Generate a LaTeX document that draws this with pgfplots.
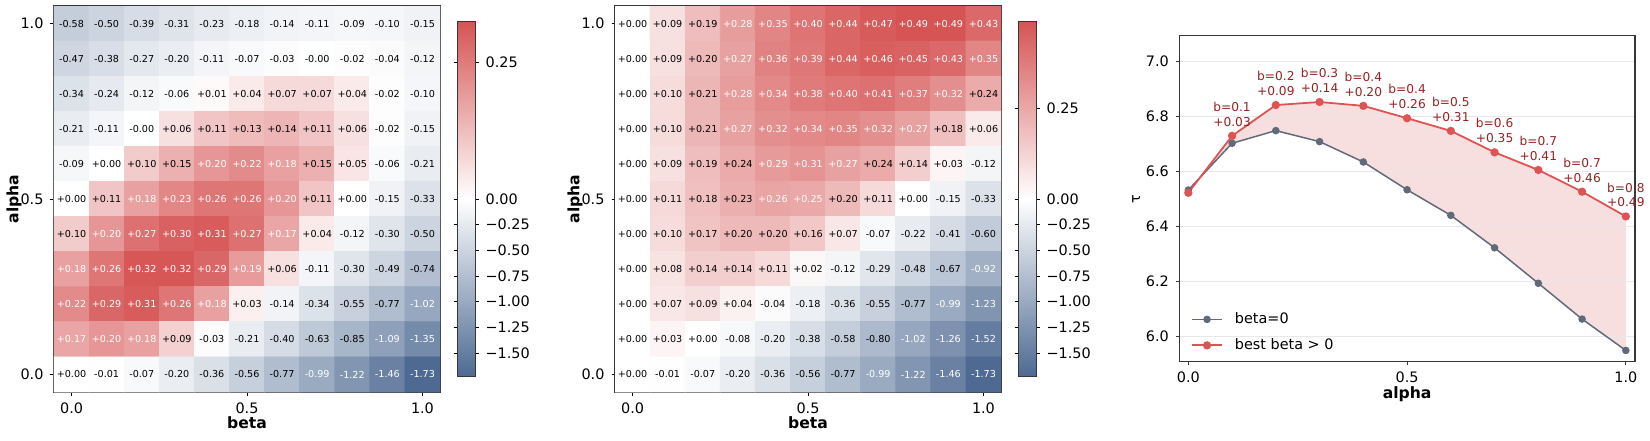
\documentclass[border=0pt]{standalone}
\usepackage{pgfplots}
\pgfplotsset{compat=1.18}
\usepackage{pgfplotstable}
\usepackage{fontspec}
\setmainfont{DejaVu Sans}

\definecolor{basegray}{RGB}{98,106,122}
\definecolor{bestred}{RGB}{222,84,84}
\definecolor{annred}{RGB}{150,35,35}
\definecolor{gainfill}{RGB}{248,223,223}
\definecolor{gridgray}{RGB}{232,232,236}
\definecolor{framegray}{RGB}{55,55,55}

\newcommand\tickfont{\fontsize{7.2pt}{8.6pt}\selectfont}
\newcommand\labelfont{\fontsize{7.8pt}{9.4pt}\selectfont\bfseries}
\newcommand\cellfont{\fontsize{4.8pt}{5.8pt}\selectfont}
\newcommand\annfont{\fontsize{6.1pt}{7.4pt}\selectfont}

% signed two-decimal cell label; white text on the darker half of the scale
% #1 value, #2 positive value above which the cell is dark
\def\dropminus-#1\relax{#1}
\newcommand\cellval[2]{%
  \edef\cellraw{#1}%
  \ifdim\cellraw pt<0pt
    \ifdim\cellraw pt<-0.865pt\color{white}\else\color{black}\fi
    \edef\cellabs{\expandafter\dropminus\cellraw\relax}%
    -\pgfmathprintnumber[fixed,fixed zerofill,precision=2,assume math mode=true]{\cellabs}%
  \else
    \ifdim\cellraw pt>#2pt\color{white}\else\color{black}\fi
    +\pgfmathprintnumber[fixed,fixed zerofill,precision=2,assume math mode=true]{\cellraw}%
  \fi}

% tau gain relative to (alpha=0.5, beta=0); pairs (beta, gain),
% one line per alpha = 1.0 ... 0.0
\pgfplotstableread[row sep=\\]{
b v\\
0.0 -0.58\\ 0.1 -0.50\\ 0.2 -0.39\\ 0.3 -0.31\\ 0.4 -0.23\\ 0.5 -0.18\\ 0.6 -0.14\\ 0.7 -0.11\\ 0.8 -0.09\\ 0.9 -0.10\\ 1.0 -0.15\\
0.0 -0.47\\ 0.1 -0.38\\ 0.2 -0.27\\ 0.3 -0.20\\ 0.4 -0.11\\ 0.5 -0.07\\ 0.6 -0.03\\ 0.7 -0.004\\ 0.8 -0.02\\ 0.9 -0.04\\ 1.0 -0.12\\
0.0 -0.34\\ 0.1 -0.24\\ 0.2 -0.12\\ 0.3 -0.06\\ 0.4 0.01\\ 0.5 0.04\\ 0.6 0.07\\ 0.7 0.07\\ 0.8 0.04\\ 0.9 -0.02\\ 1.0 -0.10\\
0.0 -0.21\\ 0.1 -0.11\\ 0.2 -0.004\\ 0.3 0.06\\ 0.4 0.11\\ 0.5 0.13\\ 0.6 0.14\\ 0.7 0.11\\ 0.8 0.06\\ 0.9 -0.02\\ 1.0 -0.15\\
0.0 -0.09\\ 0.1 0.00\\ 0.2 0.10\\ 0.3 0.15\\ 0.4 0.20\\ 0.5 0.22\\ 0.6 0.18\\ 0.7 0.15\\ 0.8 0.05\\ 0.9 -0.06\\ 1.0 -0.21\\
0.0 0.00\\ 0.1 0.11\\ 0.2 0.18\\ 0.3 0.23\\ 0.4 0.26\\ 0.5 0.26\\ 0.6 0.20\\ 0.7 0.11\\ 0.8 0.00\\ 0.9 -0.15\\ 1.0 -0.33\\
0.0 0.10\\ 0.1 0.20\\ 0.2 0.27\\ 0.3 0.30\\ 0.4 0.31\\ 0.5 0.27\\ 0.6 0.17\\ 0.7 0.04\\ 0.8 -0.12\\ 0.9 -0.30\\ 1.0 -0.50\\
0.0 0.18\\ 0.1 0.26\\ 0.2 0.32\\ 0.3 0.32\\ 0.4 0.29\\ 0.5 0.19\\ 0.6 0.06\\ 0.7 -0.11\\ 0.8 -0.30\\ 0.9 -0.49\\ 1.0 -0.74\\
0.0 0.22\\ 0.1 0.29\\ 0.2 0.31\\ 0.3 0.26\\ 0.4 0.18\\ 0.5 0.03\\ 0.6 -0.14\\ 0.7 -0.34\\ 0.8 -0.55\\ 0.9 -0.77\\ 1.0 -1.02\\
0.0 0.17\\ 0.1 0.20\\ 0.2 0.18\\ 0.3 0.09\\ 0.4 -0.03\\ 0.5 -0.21\\ 0.6 -0.40\\ 0.7 -0.63\\ 0.8 -0.85\\ 0.9 -1.09\\ 1.0 -1.35\\
0.0 0.00\\ 0.1 -0.01\\ 0.2 -0.07\\ 0.3 -0.20\\ 0.4 -0.36\\ 0.5 -0.56\\ 0.6 -0.77\\ 0.7 -0.99\\ 0.8 -1.22\\ 0.9 -1.46\\ 1.0 -1.73\\
}\gainref

% tau gain relative to beta=0 at the same alpha; same layout
\pgfplotstableread[row sep=\\]{
b v\\
0.0 0.00\\ 0.1 0.09\\ 0.2 0.19\\ 0.3 0.28\\ 0.4 0.35\\ 0.5 0.40\\ 0.6 0.44\\ 0.7 0.47\\ 0.8 0.49\\ 0.9 0.49\\ 1.0 0.43\\
0.0 0.00\\ 0.1 0.09\\ 0.2 0.20\\ 0.3 0.27\\ 0.4 0.36\\ 0.5 0.39\\ 0.6 0.44\\ 0.7 0.46\\ 0.8 0.45\\ 0.9 0.43\\ 1.0 0.35\\
0.0 0.00\\ 0.1 0.10\\ 0.2 0.21\\ 0.3 0.28\\ 0.4 0.34\\ 0.5 0.38\\ 0.6 0.40\\ 0.7 0.41\\ 0.8 0.37\\ 0.9 0.32\\ 1.0 0.24\\
0.0 0.00\\ 0.1 0.10\\ 0.2 0.21\\ 0.3 0.27\\ 0.4 0.32\\ 0.5 0.34\\ 0.6 0.35\\ 0.7 0.32\\ 0.8 0.27\\ 0.9 0.18\\ 1.0 0.06\\
0.0 0.00\\ 0.1 0.09\\ 0.2 0.19\\ 0.3 0.24\\ 0.4 0.29\\ 0.5 0.31\\ 0.6 0.27\\ 0.7 0.24\\ 0.8 0.14\\ 0.9 0.03\\ 1.0 -0.12\\
0.0 0.00\\ 0.1 0.11\\ 0.2 0.18\\ 0.3 0.23\\ 0.4 0.26\\ 0.5 0.25\\ 0.6 0.20\\ 0.7 0.11\\ 0.8 0.00\\ 0.9 -0.15\\ 1.0 -0.33\\
0.0 0.00\\ 0.1 0.10\\ 0.2 0.17\\ 0.3 0.20\\ 0.4 0.20\\ 0.5 0.16\\ 0.6 0.07\\ 0.7 -0.07\\ 0.8 -0.22\\ 0.9 -0.41\\ 1.0 -0.60\\
0.0 0.00\\ 0.1 0.08\\ 0.2 0.14\\ 0.3 0.14\\ 0.4 0.11\\ 0.5 0.02\\ 0.6 -0.12\\ 0.7 -0.29\\ 0.8 -0.48\\ 0.9 -0.67\\ 1.0 -0.92\\
0.0 0.00\\ 0.1 0.07\\ 0.2 0.09\\ 0.3 0.04\\ 0.4 -0.04\\ 0.5 -0.18\\ 0.6 -0.36\\ 0.7 -0.55\\ 0.8 -0.77\\ 0.9 -0.99\\ 1.0 -1.23\\
0.0 0.00\\ 0.1 0.03\\ 0.2 0.00\\ 0.3 -0.08\\ 0.4 -0.20\\ 0.5 -0.38\\ 0.6 -0.58\\ 0.7 -0.80\\ 0.8 -1.02\\ 0.9 -1.26\\ 1.0 -1.52\\
0.0 0.00\\ 0.1 -0.01\\ 0.2 -0.07\\ 0.3 -0.20\\ 0.4 -0.36\\ 0.5 -0.56\\ 0.6 -0.77\\ 0.7 -0.99\\ 0.8 -1.22\\ 0.9 -1.46\\ 1.0 -1.73\\
}\gainbase

% tau at beta=0 and gain of the best beta>0, per alpha
\pgfplotstableread{
alpha base  gain   bestb
0.0   6.532 -0.010 0.1
0.1   6.702 0.027  0.1
0.2   6.748 0.093  0.2
0.3   6.708 0.144  0.3
0.4   6.634 0.204  0.4
0.5   6.533 0.260  0.4
0.6   6.440 0.307  0.5
0.7   6.322 0.347  0.6
0.8   6.193 0.412  0.7
0.9   6.063 0.463  0.7
1.0   5.949 0.487  0.8
}\tautable

\pgfplotsset{
  heatmap/.style={
    anchor=north west,
    scale only axis, width=193pt, height=193pt,
    xmin=-0.05, xmax=1.05, ymin=-0.05, ymax=1.05,
    xtick={0,0.5,1}, xticklabels={0.0,0.5,1.0},
    ytick={0,0.5,1}, yticklabels={0.0,0.5,1.0},
    tick pos=left, tick align=outside, major tick length=1.75pt,
    tick style={black, line width=0.4pt},
    ticklabel style={font=\tickfont},
    axis line style={framegray, line width=0.6pt},
    xlabel=beta, ylabel=alpha,
    label style={font=\labelfont},
    xlabel style={at={([yshift=-15.5pt]axis description cs:0.5,0)}, anchor=center},
    ylabel style={at={([xshift=-20pt]axis description cs:0,0.5)}, anchor=center},
    colormap={gainmap}{rgb255=(78,106,146) rgb255=(255,255,255) rgb255=(214,84,84)},
    point meta min=-1, point meta max=1,
    colorbar,
  },
  gainbar/.style={
    at={([xshift=7.5pt]parent axis.east)}, anchor=west,
    scale only axis, width=9pt, height=177.5pt,
    tick align=outside, major tick length=1.75pt,
    tick style={black, line width=0.4pt},
    yticklabel style={font=\tickfont},
    axis line style={framegray, line width=0.5pt},
  },
  celltext/.style={
    draw=none, mark=none,
    point meta=explicit symbolic,
    nodes near coords={\cellval{\pgfplotspointmeta}{#1}},
    every node near coord/.append style={font=\cellfont, inner sep=0pt, anchor=center},
  },
  taubox/.style={
    at={(589.65pt,-17.85pt)}, anchor=north west,
    scale only axis, width=227.85pt, height=163pt,
    xmin=-0.0206, xmax=1.021, ymin=5.908, ymax=7.093,
  },
}

\begin{document}
\begin{tikzpicture}
\useasboundingbox (0,0) rectangle (825pt,-220pt);

% left: gain relative to (alpha=0.5, beta=0), colour scale split at zero
\begin{axis}[heatmap, at={(27pt,-3pt)},
  colorbar style={gainbar,
    ytick={-0.86705,-0.72254,-0.57803,-0.43353,-0.28902,-0.14451,0,0.76923},
    yticklabels={−1.50,−1.25,−1.00,−0.75,−0.50,−0.25,0.00,0.25}}]
\addplot[matrix plot*, mesh/cols=11,
  point meta={min(\thisrow{v},0)/1.73+max(\thisrow{v},0)/0.325}]
  table[x=b, y expr={1-floor(\coordindex/11)/10}] {\gainref};
\addplot[celltext=0.1625]
  table[x=b, y expr={1-floor(\coordindex/11)/10}, meta=v] {\gainref};
\end{axis}

% middle: gain relative to beta=0
\begin{axis}[heatmap, at={(307.5pt,-3pt)},
  colorbar style={gainbar,
    ytick={-0.86705,-0.72254,-0.57803,-0.43353,-0.28902,-0.14451,0,0.5102},
    yticklabels={−1.50,−1.25,−1.00,−0.75,−0.50,−0.25,0.00,0.25}}]
\addplot[matrix plot*, mesh/cols=11,
  point meta={min(\thisrow{v},0)/1.73+max(\thisrow{v},0)/0.49}]
  table[x=b, y expr={1-floor(\coordindex/11)/10}] {\gainbase};
\addplot[celltext=0.245]
  table[x=b, y expr={1-floor(\coordindex/11)/10}, meta=v] {\gainbase};
\end{axis}

% right, underneath: band between beta=0 and the best beta>0 (stacked gain)
\begin{axis}[taubox, hide axis, stack plots=y]
\addplot[draw=none] table[x=alpha, y=base] {\tautable};
\addplot[draw=none, fill=gainfill] table[x=alpha, y=gain] {\tautable} \closedcycle;
\end{axis}

% right: tau along alpha, beta=0 against the best beta>0
\begin{axis}[taubox,
  xtick={0,0.5,1}, xticklabels={0.0,0.5,1.0},
  ytick={6.0,6.2,6.4,6.6,6.8,7.0}, yticklabels={6.0,6.2,6.4,6.6,6.8,7.0},
  tick pos=left, tick align=outside, major tick length=1.75pt,
  tick style={framegray, line width=0.4pt},
  ymajorgrids, grid style={gridgray, line width=0.5pt},
  ticklabel style={font=\tickfont},
  axis line style={framegray, line width=0.6pt},
  xlabel=alpha, ylabel=τ,
  xlabel style={font=\labelfont, at={([yshift=-16pt]axis description cs:0.5,0)}, anchor=center},
  ylabel style={font=\tickfont, at={([xshift=-21.5pt]axis description cs:0,0.5)}, anchor=center},
  legend style={at={(0.012,0.003)}, anchor=south west, draw=none, fill=none,
    font=\tickfont, row sep=2pt, column sep=4pt},
  legend cell align=left,
  legend image code/.code={\draw[mark repeat=2,mark phase=2,#1]
    plot coordinates {(0pt,0pt) (7.5pt,0pt) (15pt,0pt)};},
]
\addplot[basegray, line width=0.75pt, mark=*, mark size=1.5pt]
  table[x=alpha, y=base] {\tautable};
\addlegendentry{beta=0}
\addplot[bestred, line width=0.9pt, mark=*, mark size=1.6pt]
  table[x=alpha, y expr=\thisrow{base}+\thisrow{gain}] {\tautable};
\addlegendentry{best beta > 0}
\addplot[draw=none, mark=none, forget plot, skip coords between index={0}{1},
  visualization depends on={\thisrow{bestb}\as\bval},
  point meta=explicit symbolic,
  nodes near coords={b=\pgfmathprintnumber[fixed,fixed zerofill,precision=1,assume math mode=true]{\bval}\\+\pgfmathprintnumber[fixed,fixed zerofill,precision=2,assume math mode=true]{\pgfplotspointmeta}},
  every node near coord/.append style={align=center, anchor=south, inner sep=0pt,
    yshift=4.5pt, font=\annfont, text=annred}]
  table[x=alpha, y expr=\thisrow{base}+\thisrow{gain}, meta=gain] {\tautable};
\end{axis}
\end{tikzpicture}
\end{document}
